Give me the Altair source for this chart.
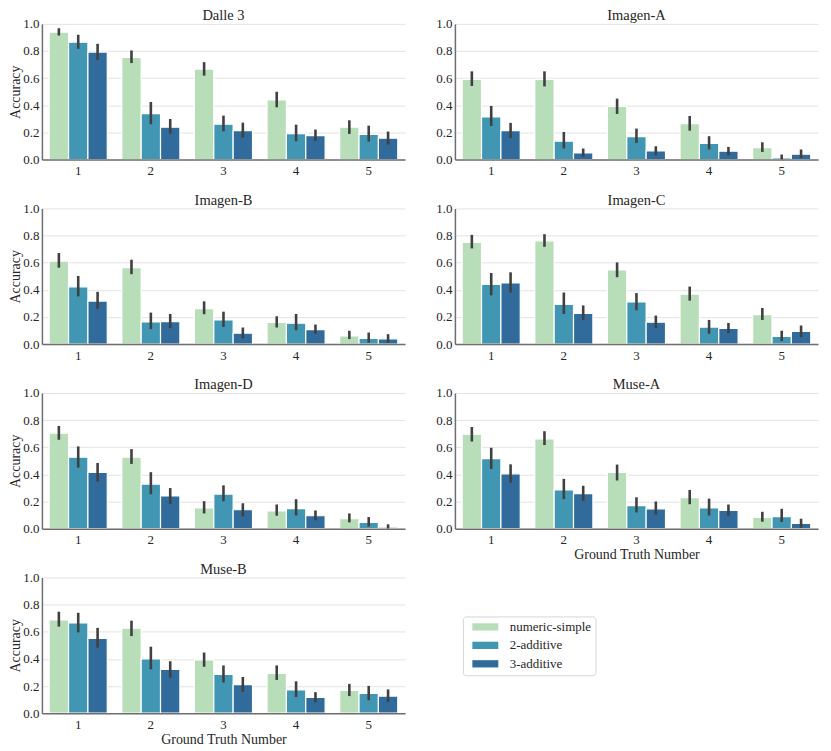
import altair as alt
import pandas as pd

numbers = [1, 2, 3, 4, 5]
methods = ["numeric-simple", "2-additive", "3-additive"]
colors = ["#b8ddb9", "#4197b3", "#306b9c"]
models = ["Dalle 3", "Imagen-A", "Imagen-B", "Imagen-C", "Imagen-D", "Muse-A", "Muse-B"]

# rows: numeric-simple, 2-additive, 3-additive ; columns: ground truth 1..5
dalle3_mean = [[0.939, 0.752, 0.667, 0.439, 0.238],
               [0.865, 0.338, 0.260, 0.191, 0.186],
               [0.792, 0.238, 0.213, 0.176, 0.157]]
dalle3_lo = [[0.914, 0.711, 0.618, 0.385, 0.189],
             [0.816, 0.260, 0.208, 0.135, 0.132],
             [0.735, 0.191, 0.162, 0.137, 0.110]]
dalle3_hi = [[0.968, 0.804, 0.718, 0.500, 0.289],
             [0.920, 0.424, 0.324, 0.257, 0.250],
             [0.853, 0.299, 0.272, 0.221, 0.206]]

imagen_a_mean = [[0.591, 0.591, 0.392, 0.265, 0.088],
                 [0.314, 0.135, 0.169, 0.118, 0.012],
                 [0.213, 0.049, 0.064, 0.061, 0.039]]
imagen_a_lo = [[0.542, 0.539, 0.336, 0.213, 0.056],
               [0.248, 0.081, 0.123, 0.074, 0.000],
               [0.159, 0.020, 0.032, 0.032, 0.010]]
imagen_a_hi = [[0.650, 0.650, 0.449, 0.321, 0.127],
               [0.395, 0.203, 0.228, 0.172, 0.037],
               [0.270, 0.081, 0.098, 0.093, 0.074]]

imagen_b_mean = [[0.612, 0.563, 0.261, 0.159, 0.061],
                 [0.422, 0.163, 0.178, 0.154, 0.041],
                 [0.317, 0.166, 0.080, 0.107, 0.039]]
imagen_b_lo = [[0.563, 0.515, 0.220, 0.122, 0.037],
               [0.351, 0.110, 0.127, 0.102, 0.010],
               [0.259, 0.117, 0.041, 0.076, 0.010]]
imagen_b_hi = [[0.671, 0.622, 0.315, 0.205, 0.098],
               [0.502, 0.232, 0.239, 0.222, 0.085],
               [0.385, 0.222, 0.122, 0.144, 0.073]]

imagen_c_mean = [[0.749, 0.761, 0.546, 0.368, 0.217],
                 [0.439, 0.293, 0.310, 0.125, 0.056],
                 [0.451, 0.227, 0.161, 0.115, 0.093]]
imagen_c_lo = [[0.705, 0.717, 0.493, 0.320, 0.178],
               [0.359, 0.222, 0.249, 0.076, 0.022],
               [0.380, 0.178, 0.117, 0.080, 0.051]]
imagen_c_hi = [[0.805, 0.810, 0.602, 0.424, 0.266],
               [0.524, 0.380, 0.376, 0.178, 0.098],
               [0.529, 0.285, 0.210, 0.156, 0.137]]

imagen_d_mean = [[0.703, 0.526, 0.153, 0.131, 0.073],
                 [0.526, 0.328, 0.255, 0.148, 0.046],
                 [0.414, 0.241, 0.139, 0.095, 0.010]]
imagen_d_lo = [[0.655, 0.477, 0.112, 0.095, 0.046],
               [0.450, 0.253, 0.202, 0.097, 0.015],
               [0.348, 0.182, 0.090, 0.061, 0.000]]
imagen_d_hi = [[0.757, 0.586, 0.202, 0.178, 0.112],
               [0.606, 0.416, 0.319, 0.217, 0.085],
               [0.484, 0.299, 0.187, 0.134, 0.032]]

muse_a_mean = [[0.696, 0.662, 0.414, 0.229, 0.083],
               [0.516, 0.285, 0.170, 0.153, 0.088],
               [0.404, 0.258, 0.146, 0.134, 0.039]]
muse_a_lo = [[0.642, 0.616, 0.355, 0.180, 0.051],
             [0.440, 0.217, 0.119, 0.097, 0.049],
             [0.338, 0.204, 0.105, 0.095, 0.007]]
muse_a_hi = [[0.749, 0.718, 0.472, 0.285, 0.124],
             [0.596, 0.367, 0.231, 0.221, 0.146],
             [0.474, 0.316, 0.200, 0.178, 0.073]]

muse_b_mean = [[0.687, 0.626, 0.393, 0.294, 0.167],
               [0.665, 0.400, 0.286, 0.172, 0.146],
               [0.551, 0.323, 0.211, 0.117, 0.126]]
muse_b_lo = [[0.638, 0.568, 0.342, 0.245, 0.126],
             [0.595, 0.323, 0.226, 0.119, 0.095],
             [0.483, 0.262, 0.158, 0.080, 0.083]]
muse_b_hi = [[0.748, 0.682, 0.447, 0.352, 0.216],
             [0.740, 0.490, 0.352, 0.235, 0.201],
             [0.629, 0.383, 0.267, 0.155, 0.175]]

series = {
    "Dalle 3": (dalle3_mean, dalle3_lo, dalle3_hi),
    "Imagen-A": (imagen_a_mean, imagen_a_lo, imagen_a_hi),
    "Imagen-B": (imagen_b_mean, imagen_b_lo, imagen_b_hi),
    "Imagen-C": (imagen_c_mean, imagen_c_lo, imagen_c_hi),
    "Imagen-D": (imagen_d_mean, imagen_d_lo, imagen_d_hi),
    "Muse-A": (muse_a_mean, muse_a_lo, muse_a_hi),
    "Muse-B": (muse_b_mean, muse_b_lo, muse_b_hi),
}
y_ticks = [0, 0.2, 0.4, 0.6, 0.8, 1.0]

FONT = "Liberation Serif"
W, H = 364, 136


def y_axis(title):
    kw = dict(values=y_ticks, format=".1f", labelOverlap=False, tickCount=6,
              ticks=False, domainColor="#6e6e6e", domainWidth=1.5,
              gridColor="#e3e3e3", gridWidth=1, labelPadding=3, titlePadding=0)
    if title:
        return alt.Axis(title=title, **kw)
    return alt.Axis(title=None, **kw)


def panel(model, idx):
    mean, lo, hi = series[model]
    rows = []
    for mi, m in enumerate(methods):
        for ni, n in enumerate(numbers):
            rows.append({"n": str(n), "method": m, "acc": mean[mi][ni],
                         "lo": lo[mi][ni], "hi": hi[mi][ni]})
    df = pd.DataFrame(rows)
    left = idx % 2 == 0
    bottom = model in ("Muse-A", "Muse-B")
    ytitle = "Accuracy" if left else None
    xaxis = alt.Axis(title="Ground Truth Number" if bottom else None,
                     labelAngle=0, ticks=False, grid=False,
                     domainColor="#6e6e6e", domainWidth=1.5,
                     labelPadding=5, titlePadding=1, zindex=2)
    xscale = alt.Scale(paddingInner=0.2, paddingOuter=0.1)
    yscale = alt.Scale(domain=[0, 1], nice=False, zero=True)
    xoff = alt.XOffset("method:N", sort=methods,
                       scale=alt.Scale(domain=methods, paddingInner=0, paddingOuter=0))
    bars = alt.Chart(df).mark_bar(stroke="white", strokeWidth=1.2).encode(
        x=alt.X("n:N", sort=[str(n) for n in numbers], scale=xscale, axis=xaxis),
        y=alt.Y("acc:Q", scale=yscale, axis=y_axis(ytitle)),
        xOffset=xoff,
        color=alt.Color("method:N", sort=methods,
                        scale=alt.Scale(domain=methods, range=colors),
                        legend=alt.Legend(title=None)),
    )
    err = alt.Chart(df).mark_rule(color="#404040", strokeWidth=2.6).encode(
        x=alt.X("n:N", sort=[str(n) for n in numbers], scale=xscale, axis=xaxis),
        xOffset=xoff,
        y=alt.Y("lo:Q", scale=yscale, axis=y_axis(ytitle)), y2="hi:Q",
    )
    return alt.layer(bars, err).properties(
        width=W, height=H,
        title=alt.TitleParams(model, fontSize=14.5, font=FONT, fontWeight="normal",
                              color="#262626", offset=-6),
    )


charts = [panel(m, i) for i, m in enumerate(models)]

chart = alt.concat(*charts, columns=2, spacing=alt.RowColnumber(row=49, column=50),
                   bounds="flush").properties(
    padding={"left": 0, "top": -1, "right": 5, "bottom": 0}
).configure(
    font=FONT,
).configure_view(stroke=None).configure_axis(
    labelFont=FONT, titleFont=FONT, labelFontSize=13, titleFontSize=14,
    labelColor="#262626", titleColor="#262626", titleFontWeight="normal",
    labelOverlap=False,
).configure_legend(
    orient="none", legendX=422, legendY=594,
    labelFont=FONT, labelFontSize=13, labelColor="#262626",
    symbolType="M-2,-0.56H2V0.56H-2Z", symbolSize=169, symbolStrokeWidth=0,
    symbolOpacity=1, symbolOffset=12,
    rowPadding=4.5, labelOffset=18, padding=4, strokeColor="#d6d6d6",
    fillColor="white", cornerRadius=3,
)

chart.save("out.html", embed_options={"renderer": "svg", "actions": False})
